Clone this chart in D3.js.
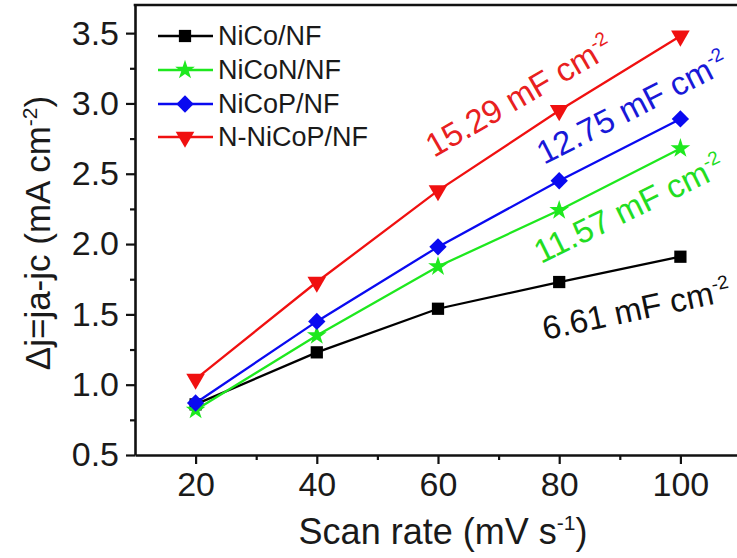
<!DOCTYPE html>
<html>
<head>
<meta charset="utf-8">
<script src="https://cdn.jsdelivr.net/npm/d3@7"></script>
<style>
  html, body { margin: 0; padding: 0; background: #fff; }
  svg { display: block; font-family: "Liberation Sans", Arial, sans-serif; }
</style>
</head>
<body>
<svg id="chart" width="737" height="558"></svg>
<script>
// Scan rates (mV s^-1)
const scanRates = [20, 40, 60, 80, 100];

// Current density difference Δj (mA cm^-2) for each electrode
const niCo    = [0.86, 1.23, 1.54, 1.73, 1.91];
const niCoN   = [0.82, 1.35, 1.84, 2.24, 2.68];
const niCoP   = [0.87, 1.45, 1.98, 2.45, 2.89];
const nNiCoP  = [1.04, 1.73, 2.38, 2.95, 3.48];

const seriesNames  = ["NiCo/NF", "NiCoN/NF", "NiCoP/NF", "N-NiCoP/NF"];
const seriesColors = ["#000000", "#1ee81e", "#0a0af0", "#f01010"];
const labelColors  = ["#111111", "#22dd22", "#1818d8", "#e82020"];
const seriesShapes = ["square", "star", "diamond", "triangleDown"];

// Double-layer capacitance from the slopes (mF cm^-2)
const capacitance = ["6.61", "11.57", "12.75", "15.29"];

const xTicks = [20, 40, 60, 80, 100];
const xMinorTicks = [30, 50, 70, 90];
const yTicks = [0.5, 1.0, 1.5, 2.0, 2.5, 3.0, 3.5];
const yMinorTicks = [0.75, 1.25, 1.75, 2.25, 2.75, 3.25];

const allValues = [niCo, niCoN, niCoP, nNiCoP];

const svg = d3.select("#chart");
const plotLeft = 135, plotRight = 741, plotTop = 5, plotBottom = 455;

const x = d3.scaleLinear().domain([10, 110]).range([plotLeft, plotRight]);
const y = d3.scaleLinear().domain([0.5, 3.7]).range([plotBottom, plotTop]);

// Axes
const axisColor = "#111";
svg.append("g").attr("transform", `translate(0,${plotBottom})`)
  .call(d3.axisBottom(x).tickValues(xTicks).tickFormat(d3.format("d"))
    .tickSize(9).tickSizeOuter(0).tickPadding(8));
svg.append("g").attr("transform", `translate(0,${plotBottom})`)
  .call(d3.axisBottom(x).tickValues(xMinorTicks).tickFormat("").tickSize(5))
  .call(g => g.select(".domain").remove());

svg.append("g").attr("transform", `translate(${plotLeft},0)`)
  .call(d3.axisLeft(y).tickValues(yTicks).tickFormat(d3.format(".1f"))
    .tickSize(9).tickSizeOuter(0).tickPadding(7));
svg.append("g").attr("transform", `translate(${plotLeft},0)`)
  .call(d3.axisLeft(y).tickValues(yMinorTicks).tickFormat("").tickSize(5))
  .call(g => g.select(".domain").remove());

svg.selectAll(".domain").attr("stroke", axisColor).attr("stroke-width", 2.6);
svg.selectAll(".tick line").attr("stroke", axisColor).attr("stroke-width", 2.2);
svg.selectAll(".tick text").attr("fill", "#1a1a1a").attr("font-size", 34)
  .attr("font-family", "Liberation Sans, Arial, sans-serif");

// Frame: top edge
svg.append("line").attr("x1", x(10) - 1.3).attr("x2", x(110)).attr("y1", y(3.7)).attr("y2", y(3.7))
  .attr("stroke", axisColor).attr("stroke-width", 2.6);

// Axis titles
const xTitle = svg.append("text").attr("x", 443).attr("y", 544)
  .attr("text-anchor", "middle").attr("font-size", 36).attr("fill", "#1a1a1a");
xTitle.append("tspan").text("Scan rate (mV s");
xTitle.append("tspan").attr("dy", -14).attr("font-size", 21).text("-1");
xTitle.append("tspan").attr("dy", 14).text(")");

const yTitle = svg.append("text")
  .attr("transform", `translate(50,233) rotate(-90)`)
  .attr("text-anchor", "middle").attr("font-size", 35).attr("fill", "#1a1a1a");
yTitle.append("tspan").text("Δj=ja-jc (mA cm");
yTitle.append("tspan").attr("dy", -13).attr("font-size", 21).text("-2");
yTitle.append("tspan").attr("dy", 13).text(")");

// Marker shapes
function markerPath(shape) {
  if (shape === "square") return d3.symbol(d3.symbolSquare, 150)();
  if (shape === "star") return d3.symbol(d3.symbolStar, 120)();
  if (shape === "diamond") return d3.symbol(d3.symbolSquare, 150)();
  return d3.symbol(d3.symbolTriangle, 150)();
}
function markerRotate(shape) {
  if (shape === "diamond") return 45;
  if (shape === "triangleDown") return 180;
  return 0;
}

const line = d3.line().x((d, i) => x(scanRates[i])).y(d => y(d));

allValues.forEach((vals, s) => {
  const g = svg.append("g");
  g.append("path").datum(vals).attr("d", line)
    .attr("fill", "none").attr("stroke", seriesColors[s]).attr("stroke-width", 2.3);
  g.selectAll("path.m").data(vals).join("path").attr("class", "m")
    .attr("d", markerPath(seriesShapes[s]))
    .attr("transform", (d, i) => `translate(${x(scanRates[i])},${y(d)}) rotate(${markerRotate(seriesShapes[s])})`)
    .attr("fill", seriesColors[s]);
});

// Legend
const legendRows = [36, 70, 104, 137];
seriesNames.forEach((name, s) => {
  const g = svg.append("g").attr("transform", `translate(0,${legendRows[s]})`);
  g.append("line").attr("x1", 158).attr("x2", 213).attr("y1", 0).attr("y2", 0)
    .attr("stroke", seriesColors[s]).attr("stroke-width", 2.3);
  g.append("path").attr("d", markerPath(seriesShapes[s]))
    .attr("transform", `translate(185,0) rotate(${markerRotate(seriesShapes[s])})`)
    .attr("fill", seriesColors[s]);
  g.append("text").attr("x", 218).attr("y", 9).attr("font-size", 27)
    .attr("fill", "#1a1a1a").text(name);
});

// Capacitance labels along each line
const labelPos = [[545, 340, -12], [541, 264, -26], [544, 165, -27], [434, 158, -30]];
capacitance.forEach((c, s) => {
  const [lx, ly, ang] = labelPos[s];
  const t = svg.append("text")
    .attr("transform", `translate(${lx},${ly}) rotate(${ang})`)
    .attr("font-size", 33).attr("fill", labelColors[s]);
  t.append("tspan").text(`${c} mF cm`);
  t.append("tspan").attr("dy", -13).attr("font-size", 19).text("-2");
});
</script>
</body>
</html>
